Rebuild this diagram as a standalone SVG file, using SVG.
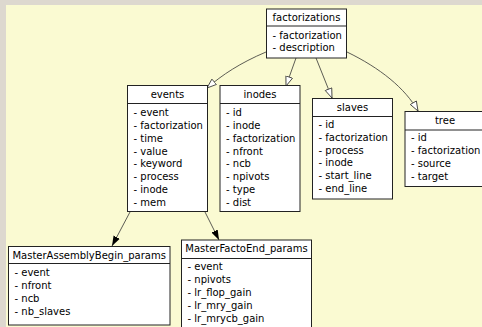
<svg xmlns="http://www.w3.org/2000/svg" width="482" height="327" viewBox="0 0 482 327">
<style>
text{font-family:"DejaVu Sans",sans-serif;font-size:10px;fill:#000}
.t{text-anchor:middle}
rect.b{fill:#fff;stroke:#222;stroke-width:1}
line.s{stroke:#222;stroke-width:1}
.e{fill:none;stroke:#333;stroke-width:0.8}
</style>
<defs>
<marker id="ho" markerUnits="userSpaceOnUse" markerWidth="12" markerHeight="10" refX="10" refY="4" orient="auto"><path d="M0.5,0.5 L10,4 L0.5,7.5 Z" fill="#fff" stroke="#333" stroke-width="0.8"/></marker>
<marker id="fi" markerUnits="userSpaceOnUse" markerWidth="12" markerHeight="10" refX="10" refY="4" orient="auto"><path d="M0,0.5 L10,4 L0,7.5 Z" fill="#000"/></marker>
</defs>
<rect x="0" y="0" width="482" height="327" fill="#ddd8cf"/>
<rect x="6" y="5" width="476" height="322" fill="#fafad2"/>
<g id="connectors">
<path class="e" d="M266,52 C240,63 222,75 207,88" marker-end="url(#ho)"/>
<path class="e" d="M296,58 L286,86" marker-end="url(#ho)"/>
<path class="e" d="M316,58 L332,98" marker-end="url(#ho)"/>
<path class="e" d="M347,52 C380,68 405,88 418,111" marker-end="url(#ho)"/>
<path class="e" d="M130,212 L112,246" marker-end="url(#fi)"/>
<path class="e" d="M205,212 L219,240" marker-end="url(#fi)"/>
</g>
<g id="factorizations">
<rect class="b" x="266.5" y="9" width="80" height="49"/>
<line class="s" x1="266.5" y1="26" x2="346.5" y2="26"/>
<text class="t" x="306.5" y="20.6">factorizations</text>
<text x="272.5" y="38.6">- factorization</text>
<text x="272.5" y="51.4">- description</text>
</g>
<g id="events">
<rect class="b" x="127.5" y="85.5" width="80" height="126"/>
<line class="s" x1="127.5" y1="103.5" x2="207.5" y2="103.5"/>
<text class="t" x="167.5" y="97.9">events</text>
<text x="133.5" y="116.2">- event</text>
<text x="133.5" y="129">- factorization</text>
<text x="133.5" y="141.8">- time</text>
<text x="133.5" y="154.6">- value</text>
<text x="133.5" y="167.4">- keyword</text>
<text x="133.5" y="180.2">- process</text>
<text x="133.5" y="193">- inode</text>
<text x="133.5" y="205.8">- mem</text>
</g>
<g id="inodes">
<rect class="b" x="220" y="85.5" width="80" height="126"/>
<line class="s" x1="220" y1="103.5" x2="300" y2="103.5"/>
<text class="t" x="260" y="97.9">inodes</text>
<text x="226" y="116.2">- id</text>
<text x="226" y="129">- inode</text>
<text x="226" y="141.8">- factorization</text>
<text x="226" y="154.6">- nfront</text>
<text x="226" y="167.4">- ncb</text>
<text x="226" y="180.2">- npivots</text>
<text x="226" y="193">- type</text>
<text x="226" y="205.8">- dist</text>
</g>
<g id="slaves">
<rect class="b" x="312.5" y="98.5" width="80" height="100.5"/>
<line class="s" x1="312.5" y1="116.5" x2="392.5" y2="116.5"/>
<text class="t" x="352.5" y="111">slaves</text>
<text x="318.5" y="127.9">- id</text>
<text x="318.5" y="140.7">- factorization</text>
<text x="318.5" y="153.5">- process</text>
<text x="318.5" y="166.3">- inode</text>
<text x="318.5" y="179.1">- start_line</text>
<text x="318.5" y="191.9">- end_line</text>
</g>
<g id="tree">
<rect class="b" x="405" y="111.5" width="80" height="75"/>
<line class="s" x1="405" y1="130" x2="485" y2="130"/>
<text class="t" x="445" y="123.6">tree</text>
<text x="411" y="141.3">- id</text>
<text x="411" y="154.1">- factorization</text>
<text x="411" y="166.9">- source</text>
<text x="411" y="179.7">- target</text>
</g>
<g id="MasterAssemblyBegin_params">
<rect class="b" x="8.5" y="246.5" width="161.5" height="78.5"/>
<line class="s" x1="8.5" y1="263.5" x2="170" y2="263.5"/>
<text class="t" x="89.2" y="258.6">MasterAssemblyBegin_params</text>
<text x="14.5" y="276.3">- event</text>
<text x="14.5" y="289.1">- nfront</text>
<text x="14.5" y="301.9">- ncb</text>
<text x="14.5" y="314.7">- nb_slaves</text>
</g>
<g id="MasterFactoEnd_params">
<rect class="b" x="181.5" y="240" width="130" height="90"/>
<line class="s" x1="181.5" y1="258.5" x2="311.5" y2="258.5"/>
<text class="t" x="246.5" y="251.9">MasterFactoEnd_params</text>
<text x="187.5" y="270.3">- event</text>
<text x="187.5" y="283.1">- npivots</text>
<text x="187.5" y="295.9">- lr_flop_gain</text>
<text x="187.5" y="308.7">- lr_mry_gain</text>
<text x="187.5" y="321.5">- lr_mrycb_gain</text>
</g>
</svg>
